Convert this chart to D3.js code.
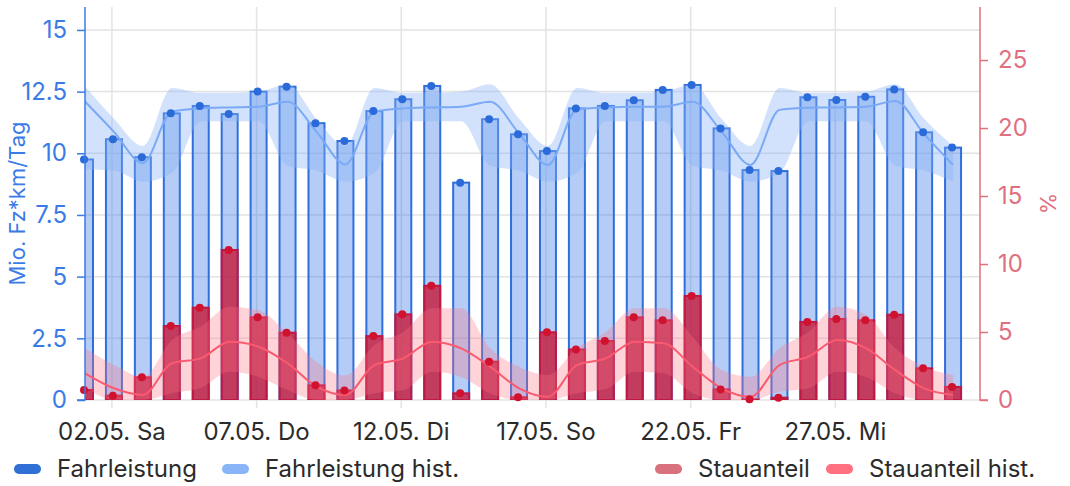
<!DOCTYPE html>
<html>
<head>
<meta charset="utf-8">
<script src="https://cdn.jsdelivr.net/npm/d3@7"></script>
<style>
  body { margin: 0; background: #fff; }
  svg { display: block; font-family: Inter, "Noto Sans", sans-serif; }
</style>
</head>
<body>
<svg id="chart"></svg>
<script>
const days = ["2020-05-01","2020-05-02","2020-05-03","2020-05-04","2020-05-05","2020-05-06","2020-05-07",
  "2020-05-08","2020-05-09","2020-05-10","2020-05-11","2020-05-12","2020-05-13","2020-05-14",
  "2020-05-15","2020-05-16","2020-05-17","2020-05-18","2020-05-19","2020-05-20","2020-05-21",
  "2020-05-22","2020-05-23","2020-05-24","2020-05-25","2020-05-26","2020-05-27","2020-05-28",
  "2020-05-29","2020-05-30","2020-05-31"];

// Fahrleistung (Mio. Fz*km/Tag)
const fahrleistung = [9.75, 10.57, 9.84, 11.62, 11.92, 11.59, 12.5, 12.7, 11.22, 10.5, 11.71, 12.19, 12.73, 8.81,
  11.38, 10.77, 10.09, 11.82, 11.92, 12.15, 12.57, 12.77, 11.01, 9.32, 9.28, 12.27, 12.16, 12.29, 12.59, 10.85, 10.23];
const fahrHist = [12.1, 10.87, 9.6, 11.69, 11.82, 11.86, 11.89, 12.09, 10.88, 9.55, 11.69, 11.82, 11.86, 11.89,
  12.09, 10.81, 9.53, 11.78, 11.86, 11.89, 11.89, 12.09, 10.88, 9.53, 11.76, 11.85, 11.86, 11.89, 12.12, 10.78, 9.53];
const fahrHistHigh = [12.72, 11.4, 10.3, 12.65, 12.45, 12.45, 12.5, 12.8, 11.4, 10.3, 12.65, 12.45, 12.45, 12.5,
  12.8, 11.4, 10.3, 12.65, 12.45, 12.45, 12.5, 12.8, 11.4, 10.3, 12.65, 12.45, 12.45, 12.5, 12.8, 11.4, 10.3];
const fahrHistLow = [9.35, 9.3, 8.85, 9.2, 11.3, 11.3, 11.3, 9.5, 9.3, 8.85, 9.2, 11.3, 11.3, 11.3,
  9.5, 9.3, 8.85, 9.2, 11.3, 11.3, 11.3, 9.5, 9.3, 8.85, 9.2, 11.3, 11.3, 11.3, 9.5, 9.3, 8.85];

// Stauanteil (%)
const stauanteil = [0.74, 0.32, 1.67, 5.44, 6.79, 11.03, 6.08, 4.95, 1.08, 0.7, 4.7, 6.3, 8.4, 0.49,
  2.82, 0.2, 4.98, 3.72, 4.34, 6.08, 5.86, 7.65, 0.78, 0.05, 0.17, 5.74, 5.96, 5.86, 6.27, 2.33, 0.96];
const stauHist = [1.96, 0.86, 0.37, 2.7, 3.06, 4.29, 3.92, 2.7, 0.98, 0.37, 2.57, 3.06, 4.29, 3.8,
  2.45, 0.86, 0.24, 2.57, 3.06, 4.29, 4.17, 2.45, 0.86, 0.24, 2.57, 3.18, 4.41, 3.8, 2.2, 0.86, 0.37];
const stauHistHigh = [3.8, 2.57, 1.7, 4.4, 5.4, 6.86, 6.6, 4.9, 2.8, 1.8, 4.04, 5.0, 6.74, 6.74,
  3.8, 2.45, 1.84, 3.8, 5.0, 6.74, 6.74, 4.66, 2.2, 1.7, 3.8, 5.0, 6.86, 6.25, 3.8, 2.45, 1.84];
const stauHistLow = [0.98, 0, 0, 0.5, 0.9, 2.08, 1.7, 0.73, 0, 0, 0.5, 0.73, 2.08, 1.7,
  0.5, 0, 0, 0.5, 0.8, 2.08, 1.96, 0.5, 0, 0, 0.6, 0.86, 2.08, 1.7, 0.5, 0, 0];

const xTickDates = ["2020-05-02","2020-05-07","2020-05-12","2020-05-17","2020-05-22","2020-05-27"];
const xTickLabels = ["02.05. Sa","07.05. Do","12.05. Di","17.05. So","22.05. Fr","27.05. Mi"];
const leftTicks = [0, 2.5, 5, 7.5, 10, 12.5, 15];
const rightTicks = [0, 5, 10, 15, 20, 25];

const width = 1070, height = 486;
const pLeft = 85, pRight = 980, pTop = 7, pBottom = 400;

const parse = d3.timeParse("%Y-%m-%d");
const dates = days.map(parse);

const svg = d3.select("#chart").attr("width", width).attr("height", height);

const x = d3.scaleTime()
  .domain([parse("2020-05-01"), parse("2020-06-01")])
  .range([83, pRight]);
const yL = d3.scaleLinear().domain([0, 15.93]).range([pBottom, pTop]);
const yR = d3.scaleLinear().domain([0, 28.9]).range([pBottom, pTop]);
const cx = i => x(dates[i]) + 2;
const barW = 16;

svg.append("defs").append("clipPath").attr("id", "plot")
  .append("rect").attr("x", pLeft).attr("y", pTop).attr("width", pRight - pLeft).attr("height", pBottom - pTop);

// grid
const grid = svg.append("g");
grid.selectAll("line.h").data(leftTicks).enter().append("line")
  .attr("x1", pLeft).attr("x2", pRight)
  .attr("y1", d => yL(d)).attr("y2", d => yL(d))
  .attr("stroke", "#e3e3e3").attr("stroke-width", 1.5);
grid.selectAll("line.v").data(xTickDates).enter().append("line")
  .attr("x1", d => x(parse(d))).attr("x2", d => x(parse(d)))
  .attr("y1", pTop).attr("y2", pBottom + 8)
  .attr("stroke", "#e3e3e3").attr("stroke-width", 1.5);

const plot = svg.append("g").attr("clip-path", "url(#plot)");

// Fahrleistung bars
plot.selectAll("rect.fl").data(fahrleistung).enter().append("rect")
  .attr("x", (d, i) => cx(i) - barW / 2)
  .attr("y", d => yL(d))
  .attr("width", barW)
  .attr("height", d => pBottom - yL(d))
  .attr("fill", "rgba(59,120,231,0.38)")
  .attr("stroke", "#2f6fdc").attr("stroke-width", 2);

// Stauanteil bars
plot.selectAll("rect.st").data(stauanteil).enter().append("rect")
  .attr("x", (d, i) => cx(i) - barW / 2)
  .attr("y", d => yR(d))
  .attr("width", barW)
  .attr("height", d => pBottom - yR(d))
  .attr("fill", "rgba(196,24,58,0.8)")
  .attr("stroke", "#c01844").attr("stroke-width", 2);

// historic bands and lines
const idx = d3.range(days.length);
const area = (yS, lo, hi) => d3.area()
  .x(i => cx(i)).y0(i => yS(lo[i])).y1(i => yS(hi[i]))
  .curve(d3.curveMonotoneX);
const line = (yS, v) => d3.line()
  .x(i => cx(i)).y(i => yS(v[i]))
  .curve(d3.curveMonotoneX);

plot.append("path").datum(idx)
  .attr("d", area(yL, fahrHistLow, fahrHistHigh))
  .attr("fill", "rgba(138,180,248,0.38)");
plot.append("path").datum(idx)
  .attr("d", line(yL, fahrHist))
  .attr("fill", "none").attr("stroke", "#7aaaf5").attr("stroke-width", 2);

plot.append("path").datum(idx)
  .attr("d", area(yR, stauHistLow, stauHistHigh))
  .attr("fill", "rgba(255,112,128,0.3)");
plot.append("path").datum(idx)
  .attr("d", line(yR, stauHist))
  .attr("fill", "none").attr("stroke", "#fa5a70").attr("stroke-width", 2);

// dots
svg.append("g").selectAll("circle").data(fahrleistung).enter().append("circle")
  .attr("cx", (d, i) => cx(i) - 1).attr("cy", d => yL(d)).attr("r", 4)
  .attr("fill", "#2a6bd9");
svg.append("g").selectAll("circle").data(stauanteil).enter().append("circle")
  .attr("cx", (d, i) => cx(i) - 1).attr("cy", d => yR(d)).attr("r", 4)
  .attr("fill", "#d0122f");

// left axis
const blue = "#3b7be6";
const axL = svg.append("g").attr("transform", `translate(${pLeft},0)`)
  .call(d3.axisLeft(yL).tickValues(leftTicks).tickSize(8).tickPadding(10).tickFormat(d3.format("~g")));
axL.select(".domain").attr("stroke", blue).attr("stroke-width", 1.5).attr("d", `M-8,${pBottom}H0V${pTop}`);
axL.selectAll(".tick line").attr("stroke", blue).attr("stroke-width", 1.5);
axL.selectAll(".tick text").attr("fill", blue).style("font-size", "24px").style("font-family", "Inter");

// right axis
const red = "#e0707f";
const axR = svg.append("g").attr("transform", `translate(${pRight},0)`)
  .call(d3.axisRight(yR).tickValues(rightTicks).tickSize(8).tickPadding(10));
axR.select(".domain").attr("stroke", red).attr("stroke-width", 1.5).attr("d", `M8,${pBottom}H0V${pTop}`);
axR.selectAll(".tick line").attr("stroke", red).attr("stroke-width", 1.5);
axR.selectAll(".tick text").attr("fill", red).style("font-size", "24px").style("font-family", "Inter");

// x labels
svg.append("g").selectAll("text").data(xTickDates).enter().append("text")
  .attr("x", d => x(parse(d)))
  .attr("y", 440)
  .attr("text-anchor", "middle")
  .attr("fill", "#2b2b2b")
  .style("font-size", "24px")
  .text((d, i) => xTickLabels[i]);

// axis titles
svg.append("text")
  .attr("transform", `translate(25,${(pTop + pBottom) / 2}) rotate(-90)`)
  .attr("text-anchor", "middle")
  .attr("fill", blue)
  .style("font-size", "22px")
  .text("Mio. Fz*km/Tag");
svg.append("text")
  .attr("transform", `translate(1056,${(pTop + pBottom) / 2}) rotate(-90)`)
  .attr("text-anchor", "middle")
  .attr("fill", red)
  .style("font-size", "22px")
  .text("%");

// legend
const legendItems = ["Fahrleistung", "Fahrleistung hist.", "Stauanteil", "Stauanteil hist."];
const legendColors = ["#2f6fd6", "#8ab4f8", "#d9717d", "#ff7080"];
const legendX = [14, 222, 655, 826];
const lg = svg.append("g").selectAll("g").data(legendItems).enter().append("g")
  .attr("transform", (d, i) => `translate(${legendX[i]},469)`);
lg.append("rect")
  .attr("x", 0).attr("y", -5).attr("width", 27).attr("height", 10).attr("rx", 5)
  .attr("fill", (d, i) => legendColors[i]);
lg.append("text")
  .attr("x", 43).attr("y", 8)
  .attr("fill", "#2b2b2b")
  .style("font-size", "24px")
  .text(d => d);
</script>
</body>
</html>
